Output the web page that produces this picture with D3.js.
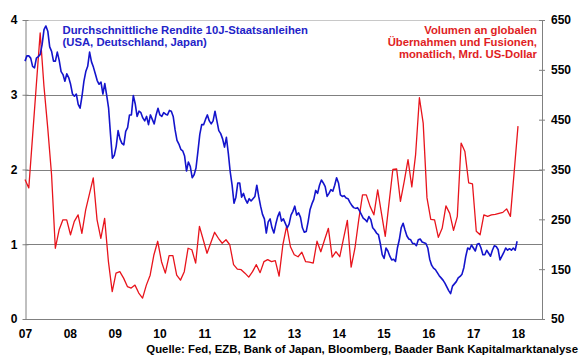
<!DOCTYPE html>
<html>
<head>
<meta charset="utf-8">
<script src="https://cdn.jsdelivr.net/npm/d3@7"></script>
<style>
    body { margin: 0; background: #fff; }
    svg { display: block; font-family: "Liberation Sans", Arial, sans-serif; font-weight: bold; }
</style>
</head>
<body>
<div id="chart-div"></div>
<script>
// x axis labels (years 2007..2018)
const years = [2007, 2008, 2009, 2010, 2011, 2012, 2013, 2014, 2015, 2016, 2017, 2018];
const yearLabels = ['07', '08', '09', '10', '11', '12', '13', '14', '15', '16', '17', '18'];
const yieldTicks = [0, 1, 2, 3, 4];
const dealTicks = [50, 150, 250, 350, 450, 550, 650];

// avg 10y yield USA/DE/JP in %, about twice a month, Jan 2007 .. end 2017
const yieldStart = 2007;
const yieldEnd = 2017.98;
const yieldValues = [
    3.45, 3.52, 3.52, 3.49, 3.38, 3.36, 3.49, 3.51, 3.54, 3.67, 3.87, 3.92, 3.85, 3.64, 3.58, 3.45, 3.45, 3.57, 3.46, 3.31, 3.27, 3.18, 3.28, 3.23,
    3.14, 3.01, 2.98, 3.01, 2.87, 2.82, 2.98, 3.18, 3.31, 3.38, 3.57, 3.44, 3.37, 3.28, 3.19, 3.14, 3.17, 3.01, 3.15, 2.99, 2.82, 2.47, 2.15, 2.19,
    2.31, 2.52, 2.41, 2.35, 2.33, 2.51, 2.56, 2.73, 2.73, 2.99, 2.88, 2.71, 2.78, 2.76, 2.69, 2.65, 2.71, 2.60, 2.73, 2.67, 2.61, 2.73, 2.82, 2.73,
    2.71, 2.76, 2.74, 2.73, 2.79, 2.78, 2.71, 2.53, 2.39, 2.34, 2.27, 2.25, 2.18, 1.98, 2.10, 2.04, 1.89, 1.93, 2.02, 2.24, 2.47, 2.60, 2.60, 2.67,
    2.73, 2.65, 2.61, 2.65, 2.78, 2.65, 2.52, 2.48, 2.41, 2.30, 2.43, 2.22, 1.97, 1.79, 1.55, 1.63, 1.82, 1.82, 1.63, 1.68, 1.60, 1.55, 1.61, 1.58,
    1.61, 1.64, 1.79, 1.64, 1.51, 1.40, 1.34, 1.15, 1.30, 1.34, 1.22, 1.15, 1.27, 1.37, 1.43, 1.31, 1.34, 1.28, 1.22, 1.27, 1.39, 1.44, 1.51, 1.39,
    1.42, 1.36, 1.22, 1.16, 1.17, 1.30, 1.46, 1.54, 1.60, 1.72, 1.68, 1.79, 1.86, 1.82, 1.77, 1.64, 1.68, 1.73, 1.71, 1.79, 1.89, 1.82, 1.66, 1.64,
    1.65, 1.62, 1.61, 1.56, 1.52, 1.49, 1.48, 1.49, 1.45, 1.40, 1.35, 1.33, 1.30, 1.37, 1.33, 1.22, 1.19, 1.15, 1.13, 1.01, 0.86, 0.81, 0.95, 0.91,
    0.84, 0.79, 0.80, 0.77, 0.95, 1.06, 1.22, 1.28, 1.19, 1.11, 1.07, 1.06, 1.01, 1.01, 0.98, 1.06, 1.07, 1.03, 1.02, 1.01, 0.95, 0.80, 0.72, 0.68,
    0.66, 0.62, 0.58, 0.55, 0.52, 0.48, 0.43, 0.38, 0.34, 0.44, 0.47, 0.50, 0.55, 0.57, 0.60, 0.69, 0.84, 0.95, 0.93, 0.99, 0.95, 0.91, 1.00, 1.01,
    0.95, 0.86, 0.86, 0.92, 0.88, 0.84, 0.92, 0.98, 0.97, 0.93, 0.79, 0.84, 0.89, 0.95, 0.92, 0.94, 0.92, 0.95, 0.92, 1.04
];

// global M&A volume, bn USD, monthly, Jan 2007 .. Jan 2018
const dealStart = 2007;
const dealEnd = 2018;
const dealValues = [
    330, 313, 417, 521, 624, 517, 433, 340, 192, 229, 249, 249,
    219, 246, 259, 222, 269, 301, 333, 249, 212, 252, 165, 105,
    142, 145, 132, 115, 112, 118, 102, 92, 118, 138, 179, 206,
    165, 142, 177, 177, 138, 128, 145, 192, 189, 162, 236, 209,
    182, 203, 224, 212, 202, 209, 199, 159, 150, 149, 142, 134,
    145, 159, 143, 165, 169, 165, 167, 136, 199, 237, 195, 179,
    175, 184, 165, 164, 162, 206, 185, 209, 232, 174, 185, 175,
    212, 248, 154, 192, 249, 299, 299, 276, 259, 309, 262, 216,
    283, 350, 351, 286, 326, 370, 315, 380, 494, 443, 293, 250,
    249, 214, 232, 277, 262, 228, 256, 403, 386, 323, 321, 226,
    219, 259, 256, 259, 260, 262, 264, 271, 256, 346, 437
];

const yieldLegend = ['Durchschnittliche Rendite 10J-Staatsanleihen', '(USA, Deutschland, Japan)'];
const dealLegend = ['Volumen an globalen', 'Übernahmen und Fusionen,', 'monatlich, Mrd. US-Dollar'];
const source = 'Quelle: Fed, EZB, Bank of Japan, Bloomberg, Baader Bank Kapitalmarktanalyse';

const w = 580;
const h = 359;
const plotLeft = 25.5;
const plotRight = 542;
const plotTop = 20;
const plotBottom = 319;

const blue = '#1414cc';
const red = '#e8141c';

const svg = d3.select('#chart-div')
    .append('svg')
    .attr('width', w)
    .attr('height', h);

const xScale = d3.scaleLinear()
    .domain([2007, 2018])
    .range([25, 518]);

const yLeft = d3.scaleLinear()
    .domain([0, 4])
    .range([plotBottom, plotTop]);

const yRight = d3.scaleLinear()
    .domain([50, 650])
    .range([plotBottom, plotTop]);

// gridlines
svg.append('g')
    .selectAll('line')
    .data(yieldTicks.slice(1))
    .enter()
    .append('line')
    .attr('x1', plotLeft)
    .attr('x2', plotRight)
    .attr('y1', d => Math.round(yLeft(d)) + 0.5)
    .attr('y2', d => Math.round(yLeft(d)) + 0.5)
    .attr('stroke', d => d === 4 ? '#c8c8c8' : '#808080')
    .attr('stroke-width', 1);

// left axis
const leftAxis = svg.append('g')
    .attr('transform', 'translate(' + plotLeft + ',0)')
    .call(d3.axisLeft(yLeft).tickValues(yieldTicks).tickFormat(d3.format('d')).tickSizeInner(3).tickSizeOuter(0).tickPadding(5));

// right axis
const rightAxis = svg.append('g')
    .attr('transform', 'translate(' + plotRight + ',0)')
    .call(d3.axisRight(yRight).tickValues(dealTicks).tickSizeInner(3).tickSizeOuter(0).tickPadding(6));

// bottom axis
const bottomAxis = svg.append('g')
    .attr('transform', 'translate(0,' + (plotBottom + 0.5) + ')')
    .call(d3.axisBottom(xScale).tickValues(years).tickFormat((d, i) => yearLabels[i]).tickSize(0).tickPadding(10));

bottomAxis.select('.domain')
    .attr('d', 'M' + plotLeft + ',0H' + plotRight);

[leftAxis, rightAxis].forEach(g => {
    g.select('.domain').attr('stroke', '#808080');
    g.selectAll('.tick line').attr('stroke', '#808080').attr('x1', g === leftAxis ? 3 : -3);
});
bottomAxis.select('.domain').attr('stroke', '#808080');

svg.selectAll('.tick text')
    .attr('fill', '#000')
    .style('font-size', '12px')
    .style('font-weight', 'bold')
    .style('font-family', '"Liberation Sans", Arial, sans-serif');

// series
const dealLine = d3.line()
    .x((d, i) => xScale(dealStart + i * (dealEnd - dealStart) / (dealValues.length - 1)))
    .y(d => yRight(d));

const yieldLine = d3.line()
    .x((d, i) => xScale(yieldStart + i * (yieldEnd - yieldStart) / (yieldValues.length - 1)))
    .y(d => yLeft(d));

svg.append('path')
    .datum(dealValues)
    .attr('d', dealLine)
    .attr('fill', 'none')
    .attr('stroke', red)
    .attr('stroke-width', 1.3)
    .attr('stroke-linejoin', 'round');

svg.append('path')
    .datum(yieldValues)
    .attr('d', yieldLine)
    .attr('fill', 'none')
    .attr('stroke', blue)
    .attr('stroke-width', 1.6)
    .attr('stroke-linejoin', 'round');

// legends
svg.append('g')
    .selectAll('text')
    .data(yieldLegend)
    .enter()
    .append('text')
    .attr('x', 62.5)
    .attr('y', (d, i) => 34 + i * 12)
    .attr('fill', '#2323c8')
    .style('font-size', '11.3px')
    .text(d => d);

svg.append('g')
    .selectAll('text')
    .data(dealLegend)
    .enter()
    .append('text')
    .attr('x', 537)
    .attr('y', (d, i) => 34 + i * 12)
    .attr('text-anchor', 'end')
    .attr('fill', '#e01e24')
    .style('font-size', '11.3px')
    .text(d => d);

svg.append('text')
    .attr('x', 578)
    .attr('y', 353)
    .attr('text-anchor', 'end')
    .attr('fill', '#000')
    .style('font-size', '11.4px')
    .text(source);
</script>
</body>
</html>
